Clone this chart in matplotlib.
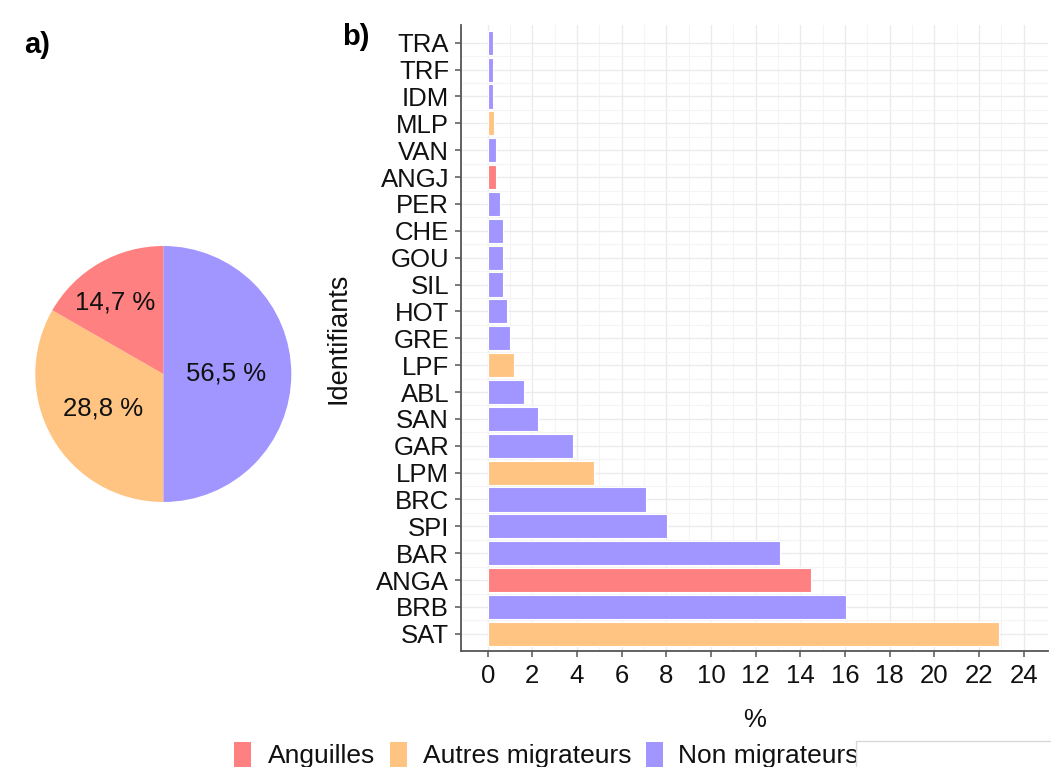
import matplotlib
matplotlib.use("Agg")
import matplotlib.pyplot as plt
from matplotlib.patches import Rectangle
import numpy as np

plt.rcParams['font.family'] = ['Liberation Sans', 'DejaVu Sans']

# ---------------- data ----------------
groups = ["Anguilles", "Autres migrateurs", "Non migrateurs"]
group_colors = ["#FF8080", "#FFC482", "#A195FF"]

# bar chart (bottom to top)
species = ["SAT", "BRB", "ANGA", "BAR", "SPI", "BRC", "LPM", "GAR", "SAN", "ABL",
           "LPF", "GRE", "HOT", "SIL", "GOU", "CHE", "PER", "ANGJ", "VAN", "MLP",
           "IDM", "TRF", "TRA"]
percent = [22.91, 16.04, 14.49, 13.07, 8.04, 7.10, 4.74, 3.84, 2.26, 1.63,
           1.17, 1.00, 0.86, 0.68, 0.68, 0.68, 0.55, 0.38, 0.37, 0.26,
           0.24, 0.24, 0.24]
species_group = ["Autres migrateurs", "Non migrateurs", "Anguilles", "Non migrateurs",
                 "Non migrateurs", "Non migrateurs", "Autres migrateurs", "Non migrateurs",
                 "Non migrateurs", "Non migrateurs", "Autres migrateurs", "Non migrateurs",
                 "Non migrateurs", "Non migrateurs", "Non migrateurs", "Non migrateurs",
                 "Non migrateurs", "Anguilles", "Non migrateurs", "Autres migrateurs",
                 "Non migrateurs", "Non migrateurs", "Non migrateurs"]
x_ticks = list(range(0, 25, 2))

# pie chart (drawn order: Non migrateurs, Autres migrateurs, Anguilles)
pie_groups = ["Non migrateurs", "Autres migrateurs", "Anguilles"]
pie_shares = [50.0, 33.3, 16.7]          # slice sizes as drawn
pie_labels = ["56,5 %", "28,8 %", "14,7 %"]

# ---------------- figure ----------------
W, H = 1051, 767
fig = plt.figure(figsize=(W / 100, H / 100), dpi=100, facecolor="white")

def fx(px):
    return px / W

def fy(py):
    return 1 - py / H

color_of = dict(zip(groups, group_colors))

# ---- bar panel ----
top_px, bot_px, left_px, right_px = 25, 651, 461, 1048
ax = fig.add_axes([fx(left_px), fy(bot_px), fx(right_px - left_px), (bot_px - top_px) / H])
ypos = np.arange(len(species))
ax.barh(ypos, percent, height=0.9,
        color=[color_of[g] for g in species_group],
        edgecolor="white", linewidth=0.8, zorder=3)
ax.set_xlim(-1.196, 25.09)
ax.set_ylim(-0.64, len(species) - 1 + 0.66)
ax.set_yticks(ypos)
ax.set_yticklabels(species)
ax.set_xticks(x_ticks)
ax.set_xticks(np.arange(1, 25, 2), minor=True)
ax.set_yticks(ypos[:-1] + 0.5, minor=True)
ax.grid(which="major", color="#EBEBEB", linewidth=1.0, zorder=0)
ax.grid(which="minor", color="#F4F4F4", linewidth=0.8, zorder=0)
ax.set_axisbelow(True)
for s in ["top", "right"]:
    ax.spines[s].set_visible(False)
for s in ["left", "bottom"]:
    ax.spines[s].set_color("#555555")
    ax.spines[s].set_linewidth(1.3)
ax.tick_params(axis="both", which="major", length=4.5, width=1.1, color="#555555",
               labelsize=18.5, labelcolor="#111111")
ax.tick_params(axis="y", pad=4)
ax.tick_params(axis="x", pad=5)
ax.tick_params(which="minor", length=0)
ax.set_facecolor("white")

fig.text(fx(754.5), fy(720), "%", ha="center", va="center", fontsize=18.5, color="#111111")
fig.text(fx(338), fy(338), "Identifiants", ha="center", va="center", rotation=90,
         fontsize=19.5, color="#111111")

# ---- pie panel ----
cx, cy, r = 163.3, 374, 128
axp = fig.add_axes([fx(cx - r), fy(cy + r), 2 * r / W, 2 * r / H])
wedges, _ = axp.pie(pie_shares, colors=[color_of[g] for g in pie_groups],
                    startangle=90, counterclock=False, radius=1,
                    wedgeprops=dict(linewidth=0))
axp.set_xlim(-1, 1)
axp.set_ylim(-1, 1)
axp.set_aspect("auto")
axp.axis("off")
label_r = [0.49, 0.545, 0.67]
label_shift = [0, 0, 4]   # degrees
for w, lab, rr, sh in zip(wedges, pie_labels, label_r, label_shift):
    mid = np.deg2rad((w.theta1 + w.theta2) / 2 + sh)
    axp.text(rr * np.cos(mid), rr * np.sin(mid), lab, ha="center", va="center",
             fontsize=18.5, color="#111111")

# ---- panel letters ----
fig.text(fx(24), fy(31), "a)", ha="left", va="top", fontsize=21, fontweight="bold")
fig.text(fx(342), fy(23), "b)", ha="left", va="top", fontsize=21, fontweight="bold")

# ---- legend ----
key_x = [234, 390, 646]
text_x = [268, 423, 678]
for g, kx, tx in zip(groups, key_x, text_x):
    fig.patches.append(Rectangle((fx(kx), fy(767)), 17 / W, 25 / H,
                                 transform=fig.transFigure, facecolor=color_of[g],
                                 edgecolor="none"))
    fig.text(fx(tx), fy(763), g, ha="left", va="baseline", fontsize=19, color="#111111")

fig.patches.append(Rectangle((fx(856), fy(770)), 200 / W, 29 / H,
                             transform=fig.transFigure, facecolor="white",
                             edgecolor="#D9D9D9", linewidth=1, zorder=10))

fig.savefig("out.png", dpi=100, facecolor="white")
